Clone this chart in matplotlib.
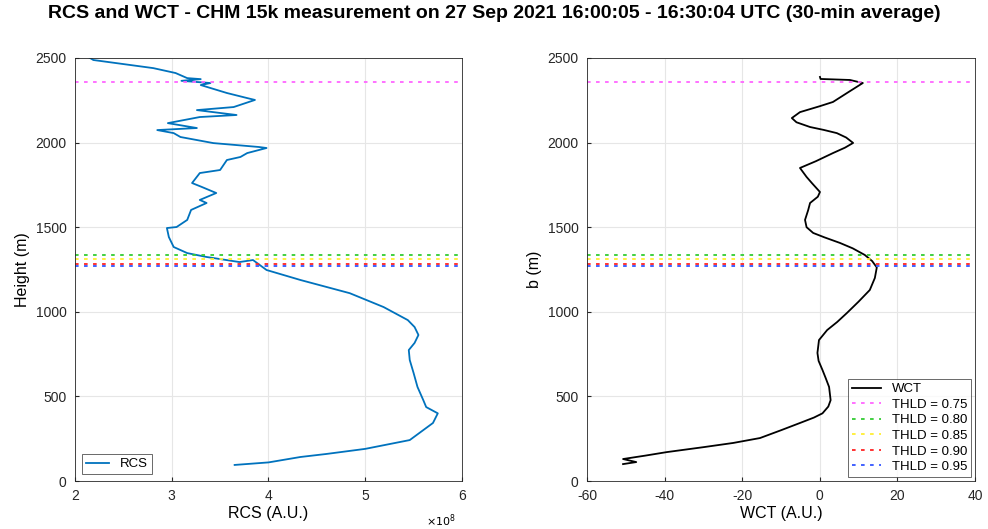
import matplotlib.pyplot as plt
import numpy as np

plt.rcParams['font.family'] = ['Liberation Sans', 'DejaVu Sans']
plt.rcParams['axes.unicode_minus'] = False

# RCS profile (x10^8 A.U.) vs height (m)
rcs_vals = [3.65, 4.00, 4.33, 4.60, 5.00, 5.46, 5.70, 5.75, 5.63, 5.60, 5.54, 5.50, 5.46,
            5.45, 5.51, 5.55, 5.51, 5.44, 5.19, 4.84, 4.33, 3.98, 3.84, 3.70, 3.36, 3.16,
            3.02, 2.97, 2.95, 3.05, 3.16, 3.20, 3.36, 3.29, 3.46, 3.31, 3.21, 3.29, 3.50,
            3.57, 3.71, 3.78, 3.98, 3.90, 3.43, 3.09, 3.02, 2.85, 3.26, 2.96, 3.29, 3.67,
            3.26, 3.64, 3.86, 3.78, 3.57, 3.30, 3.40, 3.10, 3.30, 3.16, 3.04, 2.81, 2.19, 2.14]
rcs_height = [95, 110, 142, 160, 190, 242, 343, 400, 437, 478, 556, 638, 715,
              774, 816, 863, 910, 951, 1028, 1110, 1188, 1247, 1306, 1294, 1324, 1347,
              1383, 1442, 1495, 1501, 1543, 1602, 1643, 1661, 1702, 1738, 1761, 1820, 1838,
              1897, 1915, 1938, 1968, 1974, 1997, 2033, 2056, 2074, 2086, 2115, 2151, 2163,
              2192, 2210, 2252, 2263, 2293, 2340, 2352, 2365, 2375, 2381, 2411, 2440, 2488, 2505]

# WCT profile vs height (m)
wct_vals = [-50.7, -47.3, -50.7, -45.0, -39.4, -30.0, -22.3, -15.4, -10.0, -5.1, -1.5, 0.7,
            2.2, 2.8, 2.4, 1.5, 0.7, -0.3, -0.6, -0.2, 1.9, 4.5, 7.0, 10.0, 12.9, 14.2, 14.7,
            13.5, 11.6, 8.5, 5.2, 1.2, -1.7, -3.4, -3.8, -3.0, -2.5, -0.5, 0.05, -2.0, -3.4,
            -5.1, -1.0, 3.4, 6.5, 8.6, 6.8, 4.4, 1.0, -2.5, -6.0, -7.2, -5.1, 0.0, 3.4, 7.5,
            11.1, 7.8, 0.2, 0.05]
wct_height = [100, 112, 130, 150, 171, 200, 225, 254, 300, 343, 375, 400,
              440, 478, 556, 610, 656, 710, 757, 833, 892, 940, 993, 1060, 1129, 1200, 1262,
              1300, 1336, 1375, 1407, 1440, 1466, 1500, 1543, 1600, 1643, 1680, 1708, 1760, 1797,
              1850, 1890, 1938, 1970, 1998, 2030, 2056, 2075, 2092, 2120, 2145, 2180, 2215, 2240, 2300,
              2352, 2370, 2376, 2388]

# threshold heights
thld_labels = ['THLD = 0.75', 'THLD = 0.80', 'THLD = 0.85', 'THLD = 0.90', 'THLD = 0.95']
thld_heights = [2360, 1336, 1312, 1282, 1272]
thld_colors = ['#ff66ff', '#33cc33', '#ffee33', '#ff2222', '#3355ff']

fig = plt.figure(figsize=(9.88, 5.29), dpi=100)
ax1 = fig.add_axes([0.0759, 0.0907, 0.3917, 0.7997])
ax2 = fig.add_axes([0.5941, 0.0907, 0.3927, 0.7997])

def style(ax):
    ax.grid(True, color='#e6e6e6', linewidth=0.8)
    ax.set_axisbelow(True)
    ax.tick_params(direction='in', length=3, labelsize=10, colors='#262626', pad=6)
    for s in ax.spines.values():
        s.set_color('#262626')
        s.set_linewidth(0.6)

ax1.plot(rcs_vals, rcs_height, color='#0072bd', linewidth=1.3, label='RCS')
for h, c in zip(thld_heights, thld_colors):
    ax1.axhline(h, color=c, linestyle=(0, (2, 3)), linewidth=1.3)
ax1.set_xlim(2, 6)
ax1.set_ylim(0, 2500)
ax1.set_xticks([2, 3, 4, 5, 6])
ax1.set_yticks([0, 500, 1000, 1500, 2000, 2500])
ax1.set_xlabel('RCS (A.U.)', fontsize=11.5, labelpad=2)
ax1.set_ylabel('Height (m)', fontsize=11.5, labelpad=4)
ax1.text(0.985, -0.075, r'$\times10^8$', transform=ax1.transAxes, fontsize=8, ha='right', va='top')
style(ax1)
ax1.legend(loc='lower left', fontsize=9.5, frameon=True, fancybox=False, edgecolor='#262626',
           handlelength=1.8, borderpad=0.3).get_frame().set_linewidth(0.6)

ax2.plot(wct_vals, wct_height, color='k', linewidth=1.3, label='WCT')
for h, c, lab in zip(thld_heights, thld_colors, thld_labels):
    ax2.axhline(h, color=c, linestyle=(0, (2, 3)), linewidth=1.3, label=lab)
ax2.set_xlim(-60, 40)
ax2.set_ylim(0, 2500)
ax2.set_xticks([-60, -40, -20, 0, 20, 40])
ax2.set_yticks([0, 500, 1000, 1500, 2000, 2500])
ax2.set_xlabel('WCT (A.U.)', fontsize=11.5, labelpad=2)
ax2.set_ylabel('b (m)', fontsize=11.5, labelpad=4)
style(ax2)
leg = ax2.legend(loc='lower right', fontsize=9.5, frameon=True, fancybox=False, edgecolor='#262626',
                 handlelength=2.2, borderpad=0.3, labelspacing=0.25, borderaxespad=0.3)
leg.get_frame().set_linewidth(0.6)

fig.suptitle('RCS and WCT - CHM 15k measurement on 27 Sep 2021 16:00:05 - 16:30:04 UTC (30-min average)',
             fontsize=14, fontweight='bold', y=0.99)

fig.savefig('out.png', dpi=100)
